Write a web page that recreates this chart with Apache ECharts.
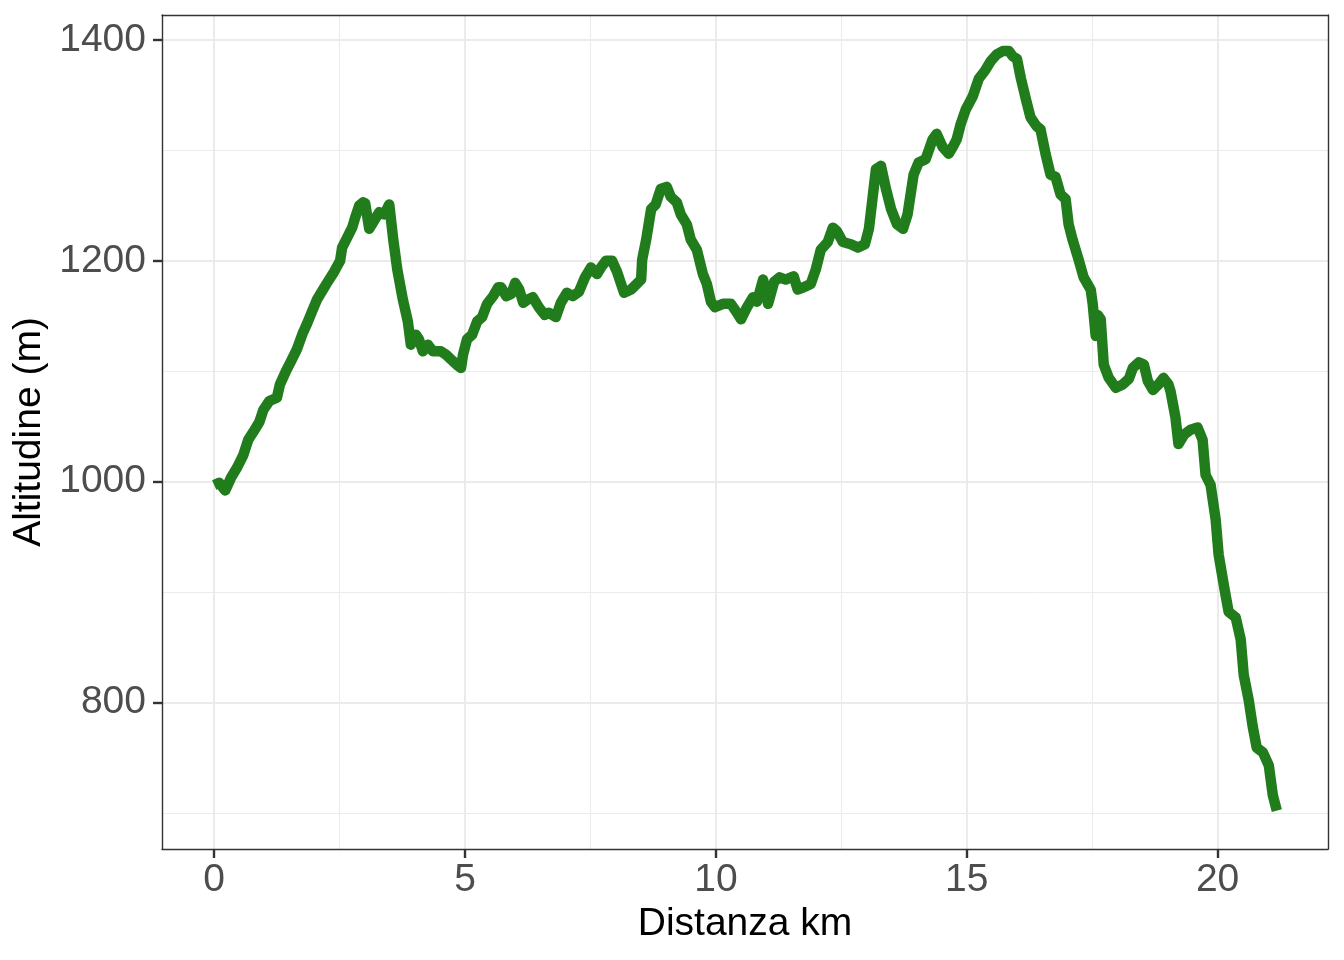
<!DOCTYPE html>
<html>
<head>
<meta charset="utf-8">
<script src="https://cdn.jsdelivr.net/npm/echarts@6/dist/echarts.min.js"></script>
<style>
html,body{margin:0;padding:0;background:#ffffff;}
#chart{width:1344px;height:960px;}
</style>
</head>
<body>
<div id="chart"></div>
<script>
// Distance along the route (km)
const distanza = [
  0.00, 0.10, 0.22, 0.34, 0.46, 0.58, 0.68, 0.78, 0.90, 0.98,
  1.10, 1.25, 1.31, 1.43, 1.53, 1.65, 1.77, 1.85, 1.95, 2.05,
  2.17, 2.25, 2.39, 2.51, 2.55, 2.65, 2.75, 2.81, 2.89, 2.97,
  3.01, 3.09, 3.29, 3.39, 3.49, 3.57, 3.65, 3.76, 3.86, 3.92,
  4.02, 4.08, 4.16, 4.26, 4.36, 4.52, 4.62, 4.76, 4.86, 4.92,
  4.96, 5.04, 5.14, 5.24, 5.34, 5.44, 5.56, 5.66, 5.72, 5.82,
  5.92, 6.00, 6.08, 6.16, 6.25, 6.35, 6.47, 6.59, 6.67, 6.81,
  6.91, 7.03, 7.15, 7.27, 7.39, 7.51, 7.63, 7.71, 7.81, 7.93,
  8.03, 8.17, 8.31, 8.51, 8.53, 8.61, 8.71, 8.80, 8.90, 9.02,
  9.10, 9.22, 9.30, 9.42, 9.50, 9.62, 9.74, 9.82, 9.90, 9.98,
  10.14, 10.30, 10.42, 10.50, 10.62, 10.74, 10.82, 10.94, 11.04, 11.16,
  11.27, 11.39, 11.55, 11.63, 11.75, 11.89, 11.99, 12.09, 12.23, 12.33,
  12.41, 12.53, 12.69, 12.83, 12.97, 13.05, 13.19, 13.29, 13.39, 13.49,
  13.61, 13.73, 13.82, 13.94, 14.04, 14.18, 14.32, 14.40, 14.52, 14.64,
  14.72, 14.80, 14.88, 14.98, 15.12, 15.24, 15.36, 15.48, 15.60, 15.72,
  15.84, 15.92, 16.00, 16.08, 16.18, 16.27, 16.39, 16.47, 16.57, 16.67,
  16.77, 16.87, 16.97, 17.03, 17.11, 17.23, 17.33, 17.47, 17.51, 17.57,
  17.61, 17.67, 17.73, 17.83, 17.97, 18.11, 18.23, 18.31, 18.43, 18.53,
  18.61, 18.71, 18.82, 18.92, 19.02, 19.06, 19.16, 19.22, 19.34, 19.46,
  19.60, 19.70, 19.76, 19.86, 19.96, 20.02, 20.14, 20.22, 20.36, 20.46,
  20.52, 20.62, 20.70, 20.78, 20.90, 21.02, 21.10, 21.18
];
// Altitude (m)
const altitudine = [
  997, 999, 992, 1004, 1013, 1024, 1038, 1045, 1054, 1065,
  1073, 1076, 1088, 1100, 1109, 1120, 1135, 1143, 1154, 1165,
  1174, 1180, 1190, 1200, 1212, 1221, 1230, 1239, 1250, 1253,
  1252, 1229, 1244, 1242, 1251, 1219, 1192, 1165, 1145, 1124,
  1133, 1129, 1118, 1124, 1118, 1118, 1115, 1109, 1105, 1103,
  1115, 1129, 1133, 1145, 1149, 1161, 1168, 1176, 1176, 1168,
  1170, 1180, 1174, 1162, 1165, 1167, 1158, 1151, 1153, 1149,
  1162, 1171, 1168, 1172, 1185, 1194, 1188, 1194, 1200, 1200,
  1190, 1171, 1174, 1183, 1201, 1219, 1247, 1251, 1265, 1267,
  1258, 1253, 1242, 1233, 1219, 1210, 1188, 1179, 1163, 1158,
  1161, 1161, 1153, 1147, 1158, 1167, 1163, 1183, 1161, 1181,
  1185, 1183, 1186, 1174, 1176, 1179, 1192, 1210, 1217, 1230,
  1227, 1217, 1215, 1212, 1215, 1229, 1283, 1286, 1265, 1247,
  1233, 1229, 1242, 1278, 1289, 1292, 1310, 1315, 1303, 1297,
  1303, 1310, 1324, 1337, 1349, 1365, 1372, 1381, 1387, 1390,
  1390, 1385, 1383, 1365, 1346, 1330, 1322, 1319, 1297, 1278,
  1276, 1260, 1256, 1233, 1219, 1201, 1185, 1174, 1161, 1132,
  1151, 1147, 1106, 1094, 1085, 1088, 1093, 1103, 1108, 1106,
  1091, 1083, 1088, 1094, 1088, 1082, 1058, 1034, 1043, 1047,
  1049, 1038, 1006, 997, 966, 934, 902, 882, 877, 857,
  825, 802, 778, 759, 755, 743, 716, 702
];
// Tick labels / gridline positions
const xTicks = [0, 5, 10, 15, 20];
const xMinor = [2.5, 7.5, 12.5, 17.5];
const yTicks = [800, 1000, 1200, 1400];
const yMinor = [700, 900, 1100, 1300];

const X_MIN = -1.04, X_MAX = 22.2;
const Y_MIN = 667.3, Y_MAX = 1422.6;

const points = distanza.map((d, i) => [d, altitudine[i]]);

const chart = echarts.init(document.getElementById('chart'), null, {renderer: 'canvas'});
const FONT = 'Liberation Sans, Arial, Helvetica, sans-serif';
const GRID_COL = '#EBEBEB';
const AX_COL = '#333333';
const plain = v => String(v);

chart.setOption({
  backgroundColor: '#ffffff',
  animation: false,
  grid: {
    left: 162, top: 15, width: 1166, height: 834,
    containLabel: false, outerBoundsMode: 'none'
  },
  xAxis: [
    {
      type: 'value', min: X_MIN, max: X_MAX, position: 'bottom',
      name: 'Distanza km', nameLocation: 'middle', nameGap: 54,
      nameTextStyle: {fontFamily: FONT, fontSize: 39, color: '#000000'},
      axisLine: {show: true, onZero: false, lineStyle: {color: AX_COL, width: 1.4}},
      axisTick: {show: true, inside: false, customValues: xTicks, length: 9, lineStyle: {color: AX_COL, width: 2.4}},
      axisLabel: {customValues: xTicks, formatter: plain, fontFamily: FONT, fontSize: 39, color: '#4D4D4D', margin: 12},
      splitLine: {show: true, lineStyle: {color: GRID_COL, width: 2}}
    },
    {
      type: 'value', min: X_MIN, max: X_MAX, position: 'top',
      axisLine: {show: true, onZero: false, lineStyle: {color: AX_COL, width: 1.4}},
      axisTick: {show: false, customValues: xMinor},
      axisLabel: {show: false, customValues: xMinor},
      splitLine: {show: true, lineStyle: {color: GRID_COL, width: 1}}
    }
  ],
  yAxis: [
    {
      type: 'value', min: Y_MIN, max: Y_MAX, position: 'left',
      name: 'Altitudine (m)', nameLocation: 'middle', nameGap: 92, nameRotate: 90,
      nameTextStyle: {fontFamily: FONT, fontSize: 39, color: '#000000'},
      axisLine: {show: true, onZero: false, lineStyle: {color: AX_COL, width: 1.4}},
      axisTick: {show: true, inside: false, customValues: yTicks, length: 9, lineStyle: {color: AX_COL, width: 2.4}},
      axisLabel: {customValues: yTicks, formatter: plain, fontFamily: FONT, fontSize: 39, color: '#4D4D4D', margin: 16},
      splitLine: {show: true, lineStyle: {color: GRID_COL, width: 2}}
    },
    {
      type: 'value', min: Y_MIN, max: Y_MAX, position: 'right',
      axisLine: {show: true, onZero: false, lineStyle: {color: AX_COL, width: 1.4}},
      axisTick: {show: false, customValues: yMinor},
      axisLabel: {show: false, customValues: yMinor},
      splitLine: {show: true, lineStyle: {color: GRID_COL, width: 1}}
    }
  ],
  series: [
    {
      type: 'line',
      xAxisIndex: 0, yAxisIndex: 0,
      data: points,
      showSymbol: false,
      symbol: 'none',
      smooth: false,
      lineStyle: {color: '#217D1C', width: 10.5, cap: 'butt', join: 'round'},
      z: 5
    }
  ]
});
</script>
</body>
</html>
